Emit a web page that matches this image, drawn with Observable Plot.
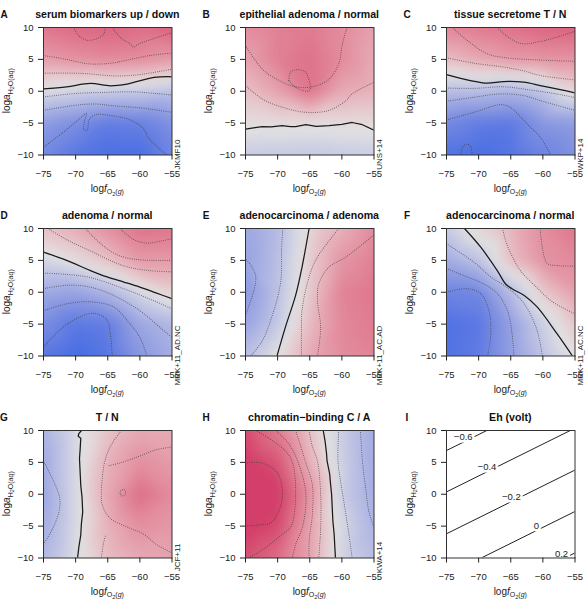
<!DOCTYPE html>
<html>
<head>
<meta charset="utf-8">
<script src="https://cdn.jsdelivr.net/npm/d3@7"></script>
<script src="https://cdn.jsdelivr.net/npm/@observablehq/plot@0.6"></script>
<style>
  body { margin: 0; background: #fff; }
  #fig { position: relative; width: 588px; height: 609px; overflow: hidden;
         font-family: "Liberation Sans", Arial, Helvetica, sans-serif; }
  #fig svg { position: absolute; overflow: visible; }
</style>
</head>
<body>
<div id="fig"></div>
<script>
// Sample grid used for the shaded backgrounds (logfO2 columns, logaH2O rows)
const gridX = [-75, -70, -65, -60, -55];
const gridY = [10, 5, 0, -5, -10];
const xTicks = [-75, -70, -65, -60, -55];
const yTicks = [-10, -5, 0, 5, 10];

// Diverging HCL palette (blue - grey - red)
const hclStops = ["#4A6FE3", "#8595E1", "#B5BBE3", "#E2E2E2", "#E6AFB9", "#E07B91", "#D33F6A"];

// ---- A: serum biomarkers up / down ----
const gridA = [
  [2.8, 3.1, 3.2, 3.0, 3.3],
  [1.8, 2.1, 2.3, 2.2, 1.9],
  [-0.2, -0.5, -0.7, -0.8, -1.1],
  [-2.4, -2.9, -3.5, -3.4, -2.8],
  [-3.1, -3.7, -4.0, -4.0, -3.2]
];
const linesA = [
  [0, [[-75, 0.37], [-71.4, 0.7], [-67.7, 1.22], [-64.6, 0.86], [-62, 1.13], [-57.8, 2.16], [-55, 2.27]]],
  [1, [[-75, 2.83], [-69, 2.8], [-63.8, 2.4], [-60.2, 2.6], [-57, 3.1], [-55, 3.45]]],
  [2, [[-75, 5.6], [-71.4, 5.0], [-68, 4.3], [-64.5, 4.4], [-61.5, 5.0], [-58.5, 5.6], [-55, 6.0]]],
  [3, [[-70.3, 10], [-69.5, 8.7], [-68.2, 8.0], [-66.6, 8.3], [-65.6, 9.0], [-65.4, 10]]],
  [3, [[-64.3, 10], [-63, 8.4], [-61.5, 7.4], [-61, 6.9], [-60.4, 7.3], [-58, 8.2], [-55, 9.2]]],
  [-1, [[-75, -0.9], [-70, -0.35], [-66, -0.2], [-61, -0.1], [-57, -0.4], [-55, -0.6]]],
  [-2, [[-75, -3.0], [-70, -2.2], [-67, -2.0], [-64, -2.3], [-60, -2.6], [-55, -3.3]]],
  [-3, [[-75, -8.8], [-72, -6.5], [-69.6, -4.5], [-68.3, -3.5], [-68.6, -4.6], [-68.7, -6.0], [-68.2, -6.1],
        [-67.9, -4.5], [-67, -3.7], [-64, -3.9], [-61.5, -4.5], [-59.5, -5.8], [-58.6, -7.4], [-57.2, -8.8], [-55.8, -10]]]
];

// ---- B: epithelial adenoma / normal ----
const gridB = [
  [2.3, 2.6, 2.75, 2.3, 1.75],
  [1.7, 2.6, 2.95, 2.3, 1.5],
  [0.9, 1.7, 2.9, 1.5, 1.25],
  [0.15, 0.2, 0.15, 0.2, 0.2],
  [-0.8, -0.85, -0.9, -0.8, -0.7]
];
const linesB = [
  [0, [[-75, -5.93], [-73.5, -5.7], [-72.4, -5.56], [-71, -5.6], [-69.3, -5.4], [-68, -5.55], [-67.2, -5.56],
       [-65.6, -5.25], [-64, -5.5], [-62, -5.4], [-60, -5.2], [-58.4, -4.9], [-56.8, -5.25], [-55, -6.1]]],
  [1, [[-75, 0.9], [-72.4, -1.2], [-69.3, -2.5], [-65.6, -3.3], [-62, -3.0], [-59.4, -1.5], [-58.4, -0.4], [-55, 1.4]]],
  [2, [[-75, 7.2], [-72.4, 3.5], [-69.8, 1.7], [-67.2, 0.7], [-64.6, 0.7], [-62, 1.9], [-60.5, 4.3], [-59.9, 7.5], [-59.2, 10]]],
  [3, [[-68.25, 1.68], [-68.0, 3.0], [-66.95, 3.4], [-65.65, 3.0], [-65.1, 1.68], [-64.9, 0.37], [-65.4, 0], [-67.2, 0.63], [-68.25, 1.68]]]
];

// ---- C: tissue secretome T / N ----
const gridC = [
  [2.4, 2.7, 2.9, 3.2, 3.3],
  [1.0, 1.5, 1.9, 2.0, 2.05],
  [-1.2, -1.25, -1.5, -1.0, 0.25],
  [-3.1, -3.5, -3.6, -2.6, -2.4],
  [-3.9, -4.0, -3.8, -3.3, -2.8]
];
const linesC = [
  [0, [[-75, 2.62], [-71.3, 1.68], [-68.7, 1.26], [-66.1, 1.52], [-63, 1.42], [-60.4, 0.9], [-57.5, 0.3], [-55, -0.26]]],
  [1, [[-75, 5.25], [-70.7, 4.4], [-66.1, 3.8], [-63, 3.2], [-60.4, 2.47], [-55, 1.78]]],
  [2, [[-74.1, 10], [-71.8, 8.0], [-68.7, 5.9], [-65.8, 5.25], [-60.4, 4.9], [-55, 4.7]]],
  [3, [[-67.1, 10], [-65.8, 8.8], [-63.5, 7.5], [-60.4, 7.8], [-55, 9.4]]],
  [-1, [[-75, 0.5], [-70.7, 0.45], [-66.1, 0.7], [-62, 0.2], [-58, -0.4], [-55, -1.0]]],
  [-2, [[-75, -1.57], [-70.7, -0.94], [-66.6, -0.42], [-63, -0.68], [-60.4, -1.47], [-55, -3.0]]],
  [-3, [[-75, -4.5], [-70.7, -3.3], [-66.6, -2.1], [-65.1, -2.5], [-63.5, -4.0], [-62, -5.6], [-60.4, -7.2], [-58.8, -10]]],
  [-4, [[-72.8, -10], [-72.4, -8.6], [-71.7, -8.3], [-71.2, -8.8], [-71, -10]]]
];

// ---- D: adenoma / normal ----
const gridD = [
  [1.0, 1.6, 2.4, 3.2, 3.15],
  [-0.4, 0.15, 1.0, 2.1, 2.1],
  [-2.15, -2.4, -1.7, -0.4, 0.5],
  [-3.3, -4.1, -3.9, -2.3, -1.6],
  [-4.2, -4.6, -4.2, -2.9, -2.0]
];
const linesD = [
  [0, [[-75, 6.3], [-71.4, 5.0], [-67.7, 3.4], [-65.1, 2.4], [-62.5, 1.6], [-60, 0.8], [-57.5, -0.1], [-55, -1.0]]],
  [1, [[-74.3, 10], [-72, 8.6], [-70.3, 7.7], [-67.5, 6.4], [-65.1, 5.2], [-62, 4.0], [-58.5, 3.4], [-55, 3.2]]],
  [2, [[-68.5, 10], [-66.2, 7.7], [-63.6, 5.9], [-61, 5.2], [-58, 5.0], [-55, 5.0]]],
  [3, [[-63.1, 10], [-61, 8.3], [-58.9, 7.7], [-56.9, 8.0], [-55, 8.4]]],
  [-1, [[-75, 3.0], [-71.4, 2.8], [-67.7, 2.3], [-62.5, 0.55], [-57.9, -1.3], [-55, -2.6]]],
  [-2, [[-75, 0.55], [-71.3, 1.1], [-67.7, 0.8], [-64.1, -0.5], [-60, -2.9], [-56.9, -5.5], [-55, -7.1]]],
  [-3, [[-75, -2.9], [-71.3, -1.8], [-67.7, -1.5], [-64.1, -2.3], [-62, -4.4], [-60, -7.1], [-58.9, -10]]],
  [-4, [[-75, -8.6], [-71.3, -5.0], [-67.2, -3.3], [-65.1, -4.4], [-64.6, -6.5], [-64.3, -10]]]
];

// ---- E: adenocarcinoma / adenoma ----
const gridE = [
  [-1.8, -1.2, 0.3, 1.2, 2.1],
  [-1.95, -1.1, 0.5, 1.8, 2.3],
  [-2.3, -1.0, 0.6, 2.2, 2.5],
  [-1.9, -0.8, 0.9, 2.1, 2.4],
  [-1.1, 0.0, 1.3, 2.0, 2.2]
];
const linesE = [
  [0, [[-70.1, -10], [-68.8, -5.5], [-67.2, -0.5], [-66.2, 3.96], [-65.1, 10]]],
  [1, [[-66.3, -10], [-66.3, -6.5], [-66.2, -2.9], [-65.4, 1.3], [-64.1, 5.0], [-61.5, 8.7], [-60.5, 10]]],
  [2, [[-63.8, -10], [-63.3, -5.5], [-63.8, -1.3], [-63.6, 1.3], [-62, 3.96], [-59.4, 5.5], [-55, 9.0]]],
  [-1, [[-74.2, -10], [-72.4, -7.6], [-70.6, -2.9], [-69.5, 1.8], [-69.4, 6.5], [-69.2, 10]]],
  [-2, [[-75, -3.6], [-73.7, 0.3], [-73.4, 2.4], [-74, 3.96], [-75, 5.25]]]
];

// ---- F: adenocarcinoma / normal ----
const gridF = [
  [-0.7, 0.35, 1.1, 2.05, 2.6],
  [-1.7, -0.95, 0.85, 1.9, 2.15],
  [-3.0, -2.9, -1.2, 0.6, 1.6],
  [-3.6, -3.4, -2.1, -0.6, 0.7],
  [-3.6, -3.3, -2.15, -0.97, 0.05]
];
const linesF = [
  [0, [[-72.2, 10], [-69.7, 7.1], [-67.1, 3.4], [-65.8, 1.3], [-64.8, 0.55], [-62.9, -0.5], [-60.9, -2.3], [-57.8, -6.5], [-55.4, -10]]],
  [1, [[-66.3, 10], [-65.6, 7.5], [-64.6, 5.3], [-63.5, 3.4], [-61, 0.8], [-58.5, -1.5], [-55, -3.4]]],
  [2, [[-60.4, 10], [-60.1, 7.1], [-59.3, 4.5], [-57.8, 4.2], [-55, 4.1]]],
  [-1, [[-75, 7.6], [-70.7, 4.7], [-68.1, 2.4], [-65.5, 0.7], [-62.9, -1.8], [-60.9, -6.0], [-60.1, -10]]],
  [-2, [[-75, 3.7], [-71.8, 2.4], [-69.2, 1.3], [-67.1, -0.2], [-65.5, -2.9], [-64.8, -6.5], [-64.5, -10]]],
  [-3, [[-75, 0.0], [-71.8, 0.55], [-69.7, -0.2], [-68.4, -2.9], [-68.1, -6.5], [-68.6, -10]]]
];

// ---- G: T / N ----
const gridG = [
  [-1.0, -0.2, 0.5, 0.95, 0.9],
  [-1.2, -0.2, 0.8, 1.35, 1.15],
  [-1.3, -0.2, 0.95, 1.85, 1.4],
  [-1.15, -0.2, 0.8, 1.35, 1.2],
  [-0.9, -0.15, 0.6, 0.95, 1.05]
];
const linesG = [
  [0, [[-69.1, 10], [-69.5, 9.5], [-69.6, 9.1], [-69.2, 8.8], [-69.3, 7], [-69.4, 5.6], [-69.3, 3.5], [-69.2, 1.4],
       [-69.0, -0.5], [-68.9, -2.8], [-69.1, -4.6], [-69.2, -6.4], [-69.5, -8.3], [-69.7, -10]]],
  [-1, [[-75, 5.2], [-73.6, 2.4], [-72.5, -0.5], [-72.6, -2.8], [-73.8, -5.8], [-75, -7.8]]],
  [1, [[-62.9, 10], [-64.7, 7.3], [-65.5, 5.0], [-65.8, 3.1], [-66, 0], [-65.9, -1.5], [-64.7, -3.7], [-61.6, -5.3],
       [-59.5, -6.2], [-57.4, -7.9], [-55, -9.2]]],
  [1, [[-64.8, 4.5], [-63.1, 4.9], [-60, 6.0], [-57.4, 7.0], [-55, 7.4]]],
  [1, [[-66, -10], [-65.7, -7.9], [-65.3, -6.3]]],
  [2, [[-63.1, 0.2], [-62.9, 0.65], [-62.4, 0.7], [-62.2, 0.2], [-62.5, -0.25], [-62.9, -0.2], [-63.1, 0.2]]]
];

// ---- H: chromatin-binding C / A ----
const gridH = [
  [4.7, 3.3, 1.05, -0.9, -2.3],
  [5.2, 4.4, 1.65, -0.8, -2.4],
  [5.8, 5.2, 2.6, -0.85, -2.3],
  [5.2, 4.7, 2.15, -0.5, -2.0],
  [4.6, 3.8, 2.05, -0.6, -1.6]
];
const linesH = [
  [0, [[-62.9, 10], [-62.6, 8.2], [-62.4, 6.5], [-62.3, 5.2], [-61.9, 3.2], [-61.8, 2.0], [-61.6, 0],
       [-61.5, -2.1], [-61.4, -4.2], [-61.2, -6.3], [-61.1, -8.2], [-61, -10]]],
  [-1, [[-60.5, 10], [-60.6, 5.2], [-60.2, 2], [-59.7, -1.1], [-58.9, -6.3], [-58.4, -10]]],
  [-2, [[-57.1, 10], [-56.8, 5.2], [-56.3, 1.0], [-55.8, -2.7], [-55, -5.3]]],
  [1, [[-65.1, 10], [-64.6, 7.5], [-63.8, 5.2], [-63.3, 0], [-63.3, -5.3], [-63.6, -10]]],
  [2, [[-67.2, 10], [-66.4, 7.5], [-65.7, 5.2], [-64.6, 1.5], [-64.6, -3.2], [-65.1, -7.4], [-65.1, -10]]],
  [3, [[-70.3, 10], [-68.2, 7.8], [-66.8, 5], [-65.6, 0], [-66.1, -5], [-67.2, -7.9], [-67.7, -10]]],
  [4, [[-73.4, 10], [-71.4, 8.8], [-68.8, 6.8], [-67.7, 5], [-67.2, 0], [-67.9, -5], [-69.3, -6.3], [-71.9, -8.4], [-74.5, -10]]],
  [5, [[-75, 4.9], [-72.4, 4.9], [-70.1, 3.4], [-69.3, 1.0], [-69.6, -2.1], [-71.1, -4.5], [-72.9, -4.8], [-75, -5.0]]]
];

// ---- I: Eh (volt) isolines, given by logaH2O where each crosses logfO2 = -75 and -55 ----
const ehLevel = [-0.6, -0.4, -0.2, 0, 0.2];
const ehYLeft = [6.86, 0.37, -6.2, -12.7, -19.2];
const ehYRight = [16.86, 10.37, 3.8, -2.7, -9.2];
const ehLabelX = [-72.4, -68.7, -64.9, -61.0, -57.1];
const ehLabelY = [9.0, 4.3, -0.5, -5.0, -9.4];

const panels = [
  {letter: "A", title: "serum biomarkers up / down", source: "JKMF10", grid: gridA, lines: linesA, range: 4.0},
  {letter: "B", title: "epithelial adenoma / normal", source: "UNS+14", grid: gridB, lines: linesB, range: 4.1, jagged: true},
  {letter: "C", title: "tissue secretome T / N", source: "WKP+14", grid: gridC, lines: linesC, range: 4.0},
  {letter: "D", title: "adenoma / normal", source: "MRK+11_AD.NC", grid: gridD, lines: linesD, range: 4.5},
  {letter: "E", title: "adenocarcinoma / adenoma", source: "MRK+11_AC.AD", grid: gridE, lines: linesE, range: 3.6},
  {letter: "F", title: "adenocarcinoma / normal", source: "MRK+11_AC.NC", grid: gridF, lines: linesF, range: 3.7},
  {letter: "G", title: "T / N", source: "JCF+11", grid: gridG, lines: linesG, range: 2.5, jagged: true},
  {letter: "H", title: "chromatin\u2212binding C / A", source: "KWA+14", grid: gridH, lines: linesH, range: 5.0, jagged: true},
  {letter: "I", title: "Eh (volt)", eh: true}
];

const fmtSigned = v => v === 0 ? "0" : (v < 0 ? "\u2212" : "") + Math.abs(v);

function gridPoints(grid) {
  return grid.flatMap((row, i) => row.map((v, j) => ({x: gridX[j], y: gridY[i], v})));
}
function linePoints(lines) {
  return lines.flatMap(([level, pts], k) => pts.map(([x, y]) => ({x, y, level, id: k})));
}

// panel geometry
const W = 185, H = 201, ML = 43, MT = 27, PW = 128.5, PH = 127.5;
const colX = [0.3, 201.65, 403], rowY = [0, 201.3, 402.6];
const fig = document.getElementById("fig");
const xExt = d3.extent(gridX), yExt = d3.extent(gridY);

panels.forEach((p, i) => {
  const marks = [];
  const opts = {
    width: W, height: H,
    marginLeft: ML, marginTop: MT, marginRight: W - ML - PW, marginBottom: H - MT - PH,
    x: {domain: xExt},
    y: {domain: yExt},
    style: {fontFamily: '"Liberation Sans", Arial, sans-serif', fontSize: "9.5px", color: "#222", background: "transparent"}
  };
  if (p.grid) {
    const K = p.range;
    opts.color = {type: "linear", domain: [-1, -2/3, -1/3, 0, 1/3, 2/3, 1].map(t => t * K),
                  range: hclStops, interpolate: "hcl", clamp: true};
    marks.push(Plot.raster(gridPoints(p.grid), {
      x: "x", y: "y", fill: "v", interpolate: "barycentric", blur: 4,
      x1: xExt[0], x2: xExt[1], y1: yExt[0], y2: yExt[1]
    }));
    const pts = linePoints(p.lines);
    // dotted contour lines (round dots)
    marks.push(Plot.line(pts.filter(d => d.level !== 0), {
      x: "x", y: "y", z: "id", stroke: "#3a3a3a", strokeOpacity: 0.8, strokeWidth: 1,
      strokeDasharray: "0,2.2", strokeLinecap: "round", curve: "catmull-rom", clip: true
    }));
    // zero contour
    marks.push(Plot.line(pts.filter(d => d.level === 0), {
      x: "x", y: "y", z: "id", stroke: "#1a1a1a", strokeWidth: 1.25,
      curve: p.jagged ? "linear" : "catmull-rom", clip: true
    }));
  }
  if (p.eh) {
    const rows = ehLevel.flatMap((lv, k) => [
      {x: xExt[0], y: ehYLeft[k], level: lv},
      {x: xExt[1], y: ehYRight[k], level: lv}
    ]);
    marks.push(Plot.line(rows, {x: "x", y: "y", z: "level", stroke: "#222", strokeWidth: 1, clip: true}));
    const labels = ehLevel.map((lv, k) => ({x: ehLabelX[k], y: ehLabelY[k], text: fmtSigned(lv)}));
    marks.push(Plot.text(labels, {
      x: "x", y: "y", text: "text", fill: "#222", stroke: "white", strokeWidth: 5,
      paintOrder: "stroke", fontSize: 9.5
    }));
  }
  marks.push(Plot.frame({stroke: "#333", strokeWidth: 1}));
  marks.push(Plot.axisX(xTicks, {tickSize: 5, tickPadding: 10, label: null, fontSize: 9.5}));
  marks.push(Plot.axisY(yTicks, {tickSize: 5, tickPadding: 5, label: null, fontSize: 9.5}));
  opts.marks = marks;

  const svg = Plot.plot(opts);
  svg.style.left = colX[i % 3] + "px";
  svg.style.top = rowY[Math.floor(i / 3)] + "px";
  fig.appendChild(svg);

  const s = d3.select(svg);
  const cx = ML + PW / 2;
  s.append("text").attr("x", 4).attr("y", 17.5)
    .attr("font-weight", "bold").attr("font-size", 10).attr("fill", "#111").text(p.letter);
  s.append("text").attr("x", cx).attr("y", 17.5).attr("text-anchor", "middle")
    .attr("font-weight", "bold").attr("font-size", 10.6).attr("fill", "#111").text(p.title);

  // x axis title: log f_{O2(g)}
  const xl = s.append("text").attr("x", cx).attr("y", 191.5).attr("text-anchor", "middle")
    .attr("font-size", 10).attr("fill", "#222");
  xl.append("tspan").text("log");
  xl.append("tspan").attr("font-style", "italic").text("f");
  xl.append("tspan").attr("font-size", 7).attr("dy", 2.5).text("O");
  xl.append("tspan").attr("font-size", 5.5).attr("dy", 1.5).text("2");
  xl.append("tspan").attr("font-size", 7).attr("dy", -1.5).text("(");
  xl.append("tspan").attr("font-size", 7).attr("font-style", "italic").text("g");
  xl.append("tspan").attr("font-size", 7).text(")");

  // y axis title: log a_{H2O(aq)}
  const yl = s.append("text").attr("transform", `translate(10,${MT + PH / 2}) rotate(-90)`)
    .attr("text-anchor", "middle").attr("font-size", 10).attr("fill", "#222");
  yl.append("tspan").text("log");
  yl.append("tspan").attr("font-style", "italic").text("a");
  yl.append("tspan").attr("font-size", 7).attr("dy", 2.5).text("H");
  yl.append("tspan").attr("font-size", 5.5).attr("dy", 1.5).text("2");
  yl.append("tspan").attr("font-size", 7).attr("dy", -1.5).text("O(");
  yl.append("tspan").attr("font-size", 7).attr("font-style", "italic").text("aq");
  yl.append("tspan").attr("font-size", 7).text(")");

  if (p.source) {
    s.append("text").attr("transform", `translate(${ML + PW + 8.3},${MT + PH}) rotate(-90)`)
      .attr("font-size", 8).attr("fill", "#222").text(p.source);
  }
});
</script>
</body>
</html>
